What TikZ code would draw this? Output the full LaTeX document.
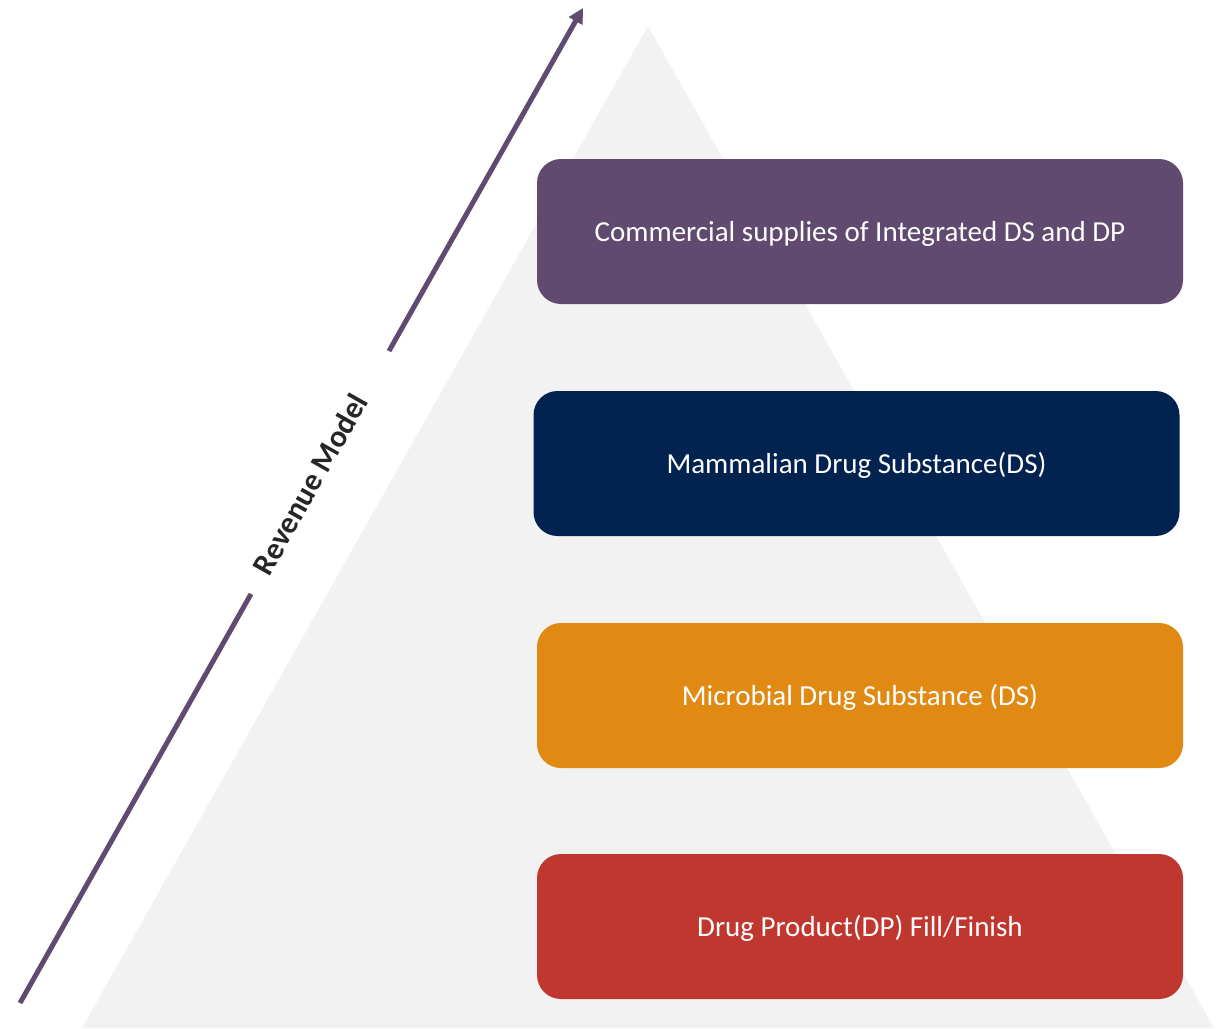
\documentclass[tikz,border=0pt]{standalone}
\usepackage{fontspec}
\setmainfont{Carlito}
\usetikzlibrary{arrows.meta}
\definecolor{tri}{HTML}{F2F2F2}
\definecolor{cpurple}{HTML}{604A70}
\definecolor{cnavy}{HTML}{022350}
\definecolor{corange}{HTML}{E08913}
\definecolor{cred}{HTML}{C0372F}
\definecolor{ctext}{HTML}{262626}
\begin{document}
\begin{tikzpicture}[x=1pt,y=-1pt,
  tier/.style={rounded corners=24pt, minimum width=646pt, minimum height=145pt, inner sep=0pt,
    text=white, font=\fontsize{29}{34}\selectfont, text height=24pt, text depth=5pt},
  arrowline/.style={draw=cpurple, line width=5pt}]
\useasboundingbox (0,0) rectangle (1223,1028);
\fill[tri] (648,26) -- (1214,1028) -- (82,1028) -- cycle;
\node[tier, fill=cpurple] (t1) at (860,231.5) {Commercial supplies of Integrated DS and DP};
\node[tier, fill=cnavy] (t2) at (856.5,463.5) {Mammalian Drug Substance(DS)};
\node[tier, fill=corange] (t3) at (860,695.5) {Microbial Drug Substance (DS)};
\node[tier, fill=cred] (t4) at (860,926.5) {Drug Product(DP) Fill/Finish};
\coordinate (a0) at (20,1003);
\coordinate (a1) at (251,594);
\coordinate (a2) at (389,351);
\coordinate (a3) at (583,8);
\node[rotate=60.5, text=ctext, font=\bfseries\fontsize{31}{36}\selectfont, inner sep=0pt] (rm) at (310,484) {Revenue Model};
\draw[arrowline] (a0) -- (a1);
\draw[arrowline, -{Triangle[length=15pt,width=15pt]}] (a2) -- (a3);
\end{tikzpicture}
\end{document}
